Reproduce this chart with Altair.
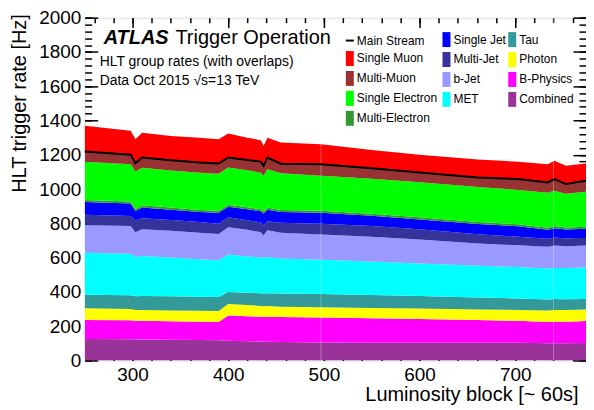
import altair as alt
import pandas as pd

# Luminosity block sample positions
lumi = [250, 298, 303, 310, 340, 370, 390, 400, 420, 434, 437, 441, 455, 497,
        550, 600, 661, 703, 734, 741, 753, 774]

# HLT group rates [Hz] per trigger group (stacked bottom -> top)
combined = [125, 124, 123, 123, 121, 119, 118, 115, 112, 110, 109, 109, 108, 105,
            104, 104, 103, 103, 101, 101, 101, 102]
b_physics = [111, 110, 109, 109, 108, 107, 106, 147, 146, 145, 145, 145, 145, 145,
             142, 138, 133, 128, 123, 125, 125, 128]
photon = [68, 66, 62, 63, 63, 64, 65, 68, 66, 63, 62, 64, 61, 60,
          60, 61, 62, 64, 67, 68, 68, 67]
tau = [80, 80, 80, 81, 82, 82, 82, 69, 71, 74, 74, 74, 76, 78,
       76, 73, 70, 67, 65, 64, 63, 61]
met = [245, 242, 229, 234, 226, 218, 214, 219, 211, 210, 209, 212, 205, 199,
       195, 190, 184, 183, 181, 182, 182, 184]
b_jet = [160, 162, 145, 156, 157, 155, 153, 159, 156, 146, 130, 156, 150, 148,
         145, 140, 130, 127, 127, 130, 127, 128]
multi_jet = [61, 59, 68, 64, 63, 63, 59, 58, 56, 57, 58, 52, 58, 62,
             62, 59, 55, 50, 46, 48, 46, 48]
single_jet = [74, 73, 56, 63, 60, 58, 65, 62, 64, 65, 71, 68, 63, 65,
              60, 58, 59, 61, 53, 54, 52, 50]
multi_electron = [12, 12, 12, 12, 12, 12, 12, 12, 12, 12, 12, 12, 12, 12,
                  12, 12, 12, 12, 12, 12, 12, 12]
single_electron = [223, 217, 219, 220, 216, 217, 215, 217, 216, 213, 208, 223, 214, 204,
                   204, 205, 204, 200, 203, 206, 196, 205]
multi_muon = [60, 55, 48, 59, 60, 60, 60, 58, 60, 65, 58, 68, 56, 67,
              62, 57, 56, 63, 61, 68, 57, 63]
single_muon = [151, 140, 140, 145, 142, 145, 142, 140, 130, 125, 116, 116, 124, 117,
               106, 103, 104, 101, 106, 107, 107, 101]

main_stream = [1219, 1200, 1151, 1184, 1168, 1155, 1149, 1184, 1170, 1160, 1136, 1184, 1148, 1145,
               1122, 1097, 1068, 1058, 1039, 1058, 1029, 1048]

# run gaps (thin white lines)
gaps = [497, 740]

stack_names = ["Combined", "B-Physics", "Photon", "Tau", "MET", "b-Jet", "Multi-Jet",
               "Single Jet", "Multi-Electron", "Single Electron", "Multi-Muon", "Single Muon"]
stack_values = [combined, b_physics, photon, tau, met, b_jet, multi_jet, single_jet,
                multi_electron, single_electron, multi_muon, single_muon]

palette = {"Single Muon": "#ff0000", "Multi-Muon": "#993333",
           "Single Electron": "#00ff00", "Multi-Electron": "#339933", "Single Jet": "#0000ff",
           "Multi-Jet": "#333399", "b-Jet": "#9999ff", "MET": "#00ffff", "Tau": "#339999",
           "Photon": "#ffff00", "B-Physics": "#ff00ff", "Combined": "#993399"}

# legend columns
legend_col1 = ["Single Muon", "Multi-Muon", "Single Electron", "Multi-Electron"]
legend_col2 = ["Single Jet", "Multi-Jet", "b-Jet", "MET"]
legend_col3 = ["Tau", "Photon", "B-Physics", "Combined"]

rows = []
for k, (name, vals) in enumerate(zip(stack_names, stack_values)):
    for x, v in zip(lumi, vals):
        rows.append({"lumi": x, "group": name, "rate": v, "k": k})
df = pd.DataFrame(rows)
df_main = pd.DataFrame({"lumi": lumi, "main": main_stream, "name": "Main Stream"})
df_gap = pd.DataFrame({"lumi": gaps})

W, H = 503, 344
xscale = alt.Scale(domain=[250, 774], nice=False, zero=False)
yscale = alt.Scale(domain=[0, 2000], nice=False)

xmaj = [300, 400, 500, 600, 700]
xmin = list(range(260, 774, 20))
ymaj = list(range(0, 2001, 200))
ymin = list(range(0, 2001, 40))

def tick_axis(orient, offset, values, size):
    return alt.Axis(orient=orient, offset=offset, values=values, labels=False,
                    tickSize=size, domain=False, title="", grid=False,
                    tickColor="black", tickWidth=1.5)

sym_rect = "M-1,-1.875H1V1.875H-1Z"

def legend_for(x, y, symbol=sym_rect, stroke_w=0):
    return alt.Legend(
        orient="none", legendX=x, legendY=y, padding=0, direction="vertical",
        symbolType=symbol, symbolSize=64, symbolStrokeWidth=stroke_w, symbolOpacity=1,
        labelFont="Liberation Sans", labelFontSize=12, labelColor="black",
        labelOffset=1, rowPadding=4, labelLimit=200,
    )

areas = alt.Chart(df).mark_area(interpolate="linear", clip=True).encode(
    x=alt.X("lumi:Q", scale=xscale, axis=alt.Axis(
        orient="bottom", values=xmaj, ticks=False, domain=False, grid=False,
        labelFontSize=19, labelPadding=5, labelFont="Liberation Sans", labelColor="black",
        title="Luminosity block [~ 60s]", titleFont="Liberation Sans", titleFontSize=20,
        titleFontWeight="normal", titleColor="black",
        titleX=495, titleY=40, titleAlign="right", titleBaseline="alphabetic")),
    y=alt.Y("rate:Q", stack="zero", scale=yscale, axis=alt.Axis(
        orient="left", values=ymaj, ticks=False, domain=False, grid=False, format="d",
        labelFontSize=19, labelPadding=4, labelFlush=False, labelOverlap=False,
        labelFont="Liberation Sans", labelColor="black",
        title="HLT trigger rate [Hz]", titleFont="Liberation Sans", titleFontSize=20,
        titleFontWeight="normal", titleColor="black", titleAngle=270,
        titleX=-59, titleY=-4, titleAlign="right", titleBaseline="alphabetic")),
    color=alt.Color("group:N",
                    scale=alt.Scale(domain=stack_names,
                                    range=[palette[n] for n in stack_names]),
                    legend=None),
    order=alt.Order("k:Q"),
)

line = alt.Chart(df_main).mark_line(strokeWidth=2).encode(
    x=alt.X("lumi:Q", scale=xscale, axis=tick_axis("top", -H, xmaj, 10)),
    y=alt.Y("main:Q", scale=yscale, axis=tick_axis("right", -W, ymaj, 13)),
    stroke=alt.Stroke("name:N", title=None,
                      scale=alt.Scale(domain=["Main Stream"], range=["#000000"]),
                      legend=legend_for(260, 17, "stroke", 2)),
)

def legend_layer(names, x, y):
    return alt.Chart(pd.DataFrame({"group": names})).mark_square(
        size=0, opacity=1, filled=True
    ).encode(
        color=alt.Color("group:N", title=None,
                        scale=alt.Scale(domain=names, range=[palette[n] for n in names]),
                        legend=legend_for(x, y)),
    )

leg1 = legend_layer(legend_col1, 260, 35)
leg2 = legend_layer(legend_col2, 357, 16)
leg3 = legend_layer(legend_col3, 423, 16)

inv1 = alt.Chart(df_main).mark_point(opacity=0).encode(
    x=alt.X("lumi:Q", scale=xscale, axis=tick_axis("top", -H, xmin, 5)),
    y=alt.Y("main:Q", scale=yscale, axis=tick_axis("right", -W, ymin, 7)),
)
inv2 = alt.Chart(df_main).mark_point(opacity=0).encode(
    x=alt.X("lumi:Q", scale=xscale, axis=tick_axis("bottom", -H, xmaj, 10)),
    y=alt.Y("main:Q", scale=yscale, axis=tick_axis("left", -W, ymaj, 13)),
)
inv3 = alt.Chart(df_main).mark_point(opacity=0).encode(
    x=alt.X("lumi:Q", scale=xscale, axis=tick_axis("bottom", -H, xmin, 5)),
    y=alt.Y("main:Q", scale=yscale, axis=tick_axis("left", -W, ymin, 7)),
)

gap_rules = alt.Chart(df_gap).mark_rule(color="white", opacity=0.3, strokeWidth=1).encode(
    x=alt.X("lumi:Q", scale=xscale, axis=None),
)

def label(txt, x, y, size, weight="normal", style="normal"):
    return alt.Chart(pd.DataFrame({"t": [txt]})).mark_text(
        align="left", baseline="alphabetic", font="Liberation Sans",
        fontSize=size, fontWeight=weight, fontStyle=style, color="black",
    ).encode(x=alt.value(x), y=alt.value(y), text="t:N")

texts = [
    label("ATLAS", 19, 26, 20, "bold", "italic"),
    label("Trigger Operation", 91, 26, 20),
    label("HLT group rates (with overlaps)", 15, 49, 14),
    label("Data Oct 2015 \u221as=13 TeV", 15, 68, 14),
]

chart = alt.layer(areas, gap_rules, line, inv1, inv2, inv3, leg1, leg2, leg3, *texts).resolve_axis(
    x="independent", y="independent"
).resolve_scale(color="independent").properties(
    width=W, height=H,
    padding={"left": 77, "top": 9, "right": 0, "bottom": 44},
    autosize=alt.AutoSizeParams(type="none"),
).configure_view(stroke="black", strokeWidth=1.5).configure(background="white")

chart.save("out.html", embed_options={"renderer": "svg", "actions": False})
